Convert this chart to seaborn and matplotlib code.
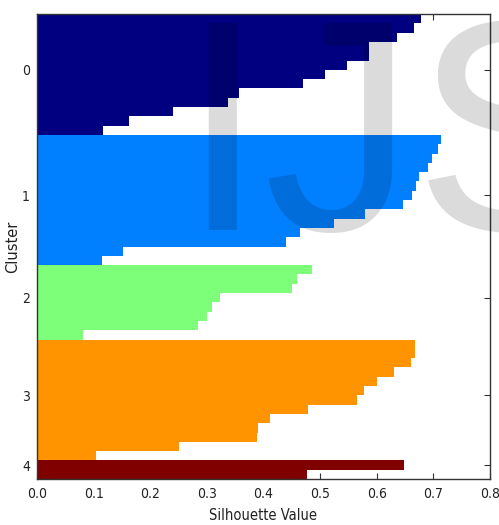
import numpy as np
import pandas as pd
import matplotlib
matplotlib.use("Agg")
import matplotlib.pyplot as plt
import seaborn as sns

# Silhouette values per cluster, listed from top to bottom as drawn
cluster0 = [0.678, 0.666, 0.636, 0.587, 0.587, 0.548, 0.509, 0.470, 0.357, 0.338, 0.240, 0.163, 0.117]
cluster1 = [0.714, 0.709, 0.698, 0.691, 0.675, 0.669, 0.662, 0.647, 0.580, 0.525, 0.464, 0.440, 0.151, 0.114]
cluster2 = [0.485, 0.459, 0.450, 0.323, 0.309, 0.300, 0.285, 0.082]
cluster3 = [0.667, 0.667, 0.661, 0.631, 0.601, 0.577, 0.565, 0.479, 0.412, 0.391, 0.388, 0.250, 0.105]
cluster4 = [0.649, 0.476]
cluster_labels = ["0", "1", "2", "3", "4"]
cluster_colors = ["#000080", "#0080ff", "#7dff7a", "#ff9400", "#800000"]
x_ticks = [0.0, 0.1, 0.2, 0.3, 0.4, 0.5, 0.6, 0.7, 0.8]

clusters = [cluster0, cluster1, cluster2, cluster3, cluster4]
rows, vals, labs = [], [], []
r = 0
starts, ends = [], []
for lab, cv in zip(cluster_labels, clusters):
    starts.append(r)
    for v in cv:
        rows.append(r)
        vals.append(v)
        labs.append(lab)
        r += 1
    ends.append(r)
df = pd.DataFrame({"row": rows, "value": vals, "cluster": labs})

sns.set_style("ticks")
plt.rcParams["font.family"] = ["DejaVu Sans"]

fig = plt.figure(figsize=(4.99, 5.25), dpi=100)
ax = fig.add_axes([37 / 499, (525 - 479) / 525, (490 - 37) / 499, (479 - 14) / 525])

sns.barplot(data=df, x="value", y="row", hue="cluster", orient="h",
            palette=dict(zip(cluster_labels, cluster_colors)),
            width=1.0, dodge=False, legend=False, linewidth=0,
            saturation=1, ax=ax, errorbar=None)

ax.set_xlim(0, 0.8)
ax.set_ylim(len(rows) - 0.5, -0.5)
ax.set_xticks(x_ticks)
ax.set_xticklabels([f"{t:.1f}" for t in x_ticks])
ticks = [(s + e) / 2 - 1 for s, e in zip(starts, ends)]
ax.set_yticks(ticks)
ax.set_yticklabels(cluster_labels)
ax.set_xlabel("Silhouette Value", fontsize=10.5, color="#222222",
              fontstretch="condensed", labelpad=5)
ax.set_ylabel("Cluster", fontsize=10.5, color="#222222")
ax.yaxis.set_label_coords(-0.037, 0.5)
ax.tick_params(direction="in", top=True, right=True, length=4, width=0.8,
               labelsize=10, colors="#333333", labelcolor="#222222")
ax.tick_params(axis="x", pad=6)
ax.tick_params(axis="y", pad=5)
for lbl in ax.get_xticklabels() + ax.get_yticklabels():
    lbl.set_fontstretch("condensed")
for s in ax.spines.values():
    s.set_visible(True)
    s.set_color("#333333")
    s.set_linewidth(1.0)

fig.text(180 / 499, (525 - 230) / 525, "IJS", fontsize=217,
         family="Liberation Sans", color="black", alpha=0.14,
         ha="left", va="baseline", zorder=10)

fig.savefig("out.png", dpi=100)
